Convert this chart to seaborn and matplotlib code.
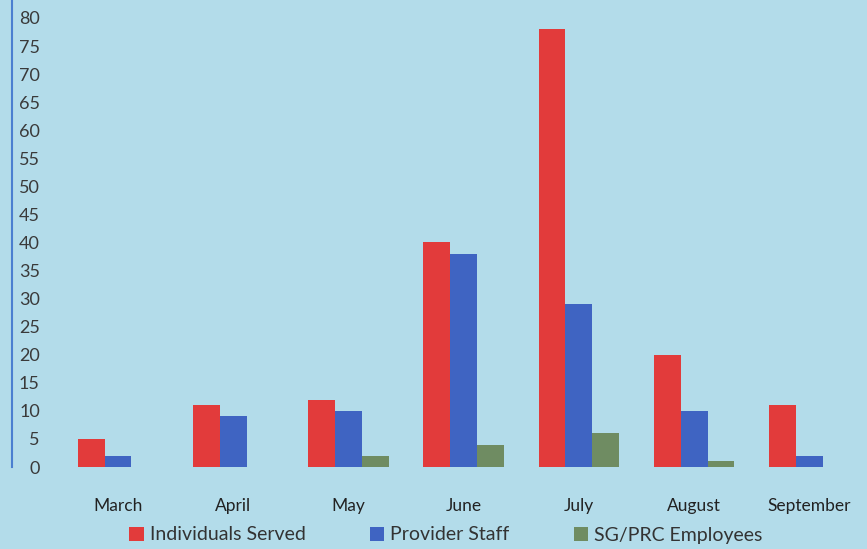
import matplotlib
matplotlib.use("Agg")
import matplotlib.pyplot as plt
import seaborn as sns
import pandas as pd
from matplotlib.patches import Patch

months = ["March", "April", "May", "June", "July", "August", "September"]
individuals_served = [5, 11, 12, 40, 78, 20, 11]
provider_staff = [2, 9, 10, 38, 29, 10, 2]
sg_prc_employees = [0, 0, 2, 4, 6, 1, 0]
series_names = ["Individuals Served", "Provider Staff", "SG/PRC Employees"]
y_ticks = list(range(0, 85, 5))

df = pd.DataFrame({
    "Month": months * 3,
    "Value": individuals_served + provider_staff + sg_prc_employees,
    "Series": [series_names[0]] * 7 + [series_names[1]] * 7 + [series_names[2]] * 7,
})

sns.set_theme(style="white")
plt.rcParams["font.family"] = ["Lato", "DejaVu Sans"]

bg = "#b3dcea"
colors = ["#e23b3b", "#3f64c2", "#6f8c62"]

fig = plt.figure(figsize=(8.67, 5.49), dpi=100, facecolor=bg)
ax = fig.add_axes([12 / 867, (549 - 467) / 549, (867 - 12) / 867, 467 / 549])
ax.set_facecolor(bg)

sns.barplot(data=df, x="Month", y="Value", hue="Series", order=months,
            hue_order=series_names, palette=colors, width=0.7, gap=0,
            saturation=1, linewidth=0, edgecolor="none", ax=ax, legend=False)

ax.set_xlim(-0.92, 6.5)
ax.set_ylim(0, 83.2)
ax.set_yticks(y_ticks)
ax.set_yticklabels([str(t) for t in y_ticks], fontsize=13, color="#3a3a3a")
ax.tick_params(axis="y", length=0, pad=-20)
for lbl in ax.get_yticklabels():
    lbl.set_horizontalalignment("right")
ax.tick_params(axis="x", length=0, pad=22, labelsize=12.5, labelcolor="#222222")
ax.set_xlabel("")
ax.set_ylabel("")
for s in ["top", "right", "bottom"]:
    ax.spines[s].set_visible(False)
ax.spines["left"].set_color("#4a7fd0")
ax.spines["left"].set_linewidth(1.5)

handles = [Patch(facecolor=c, edgecolor="none") for c in colors]
fig.legend(handles, series_names, loc="center", bbox_to_anchor=(446 / 867, 14 / 549),
           ncol=3, frameon=False, fontsize=14, handlelength=0.75, handleheight=0.75,
           handletextpad=0.3, columnspacing=3.3, labelcolor="#333333")

fig.savefig("out.png", dpi=100, facecolor=bg)
